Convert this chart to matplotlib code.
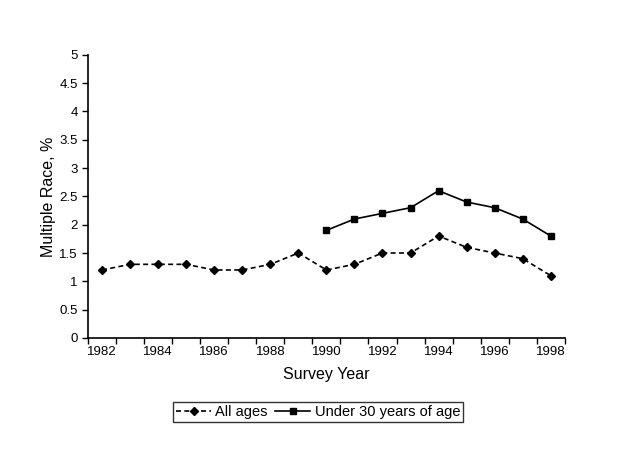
import matplotlib
matplotlib.use("Agg")
import matplotlib.pyplot as plt
import numpy as np

plt.rcParams['font.family'] = ['Liberation Sans', 'DejaVu Sans']

# Data
years = list(range(1982, 1999))
all_ages = [1.2, 1.3, 1.3, 1.3, 1.2, 1.2, 1.3, 1.5, 1.2, 1.3, 1.5, 1.5, 1.8, 1.6, 1.5, 1.4, 1.1]
under30_years = list(range(1990, 1999))
under30 = [1.9, 2.1, 2.2, 2.3, 2.6, 2.4, 2.3, 2.1, 1.8]

x_all = np.arange(len(years))
x_u30 = np.array([years.index(y) for y in under30_years])

fig = plt.figure(figsize=(6.4, 4.53), dpi=100)
ax = fig.add_axes([0.1375, 0.254, 0.745, 0.625])

ax.plot(x_all, all_ages, color='black', linestyle=(0, (3, 2)), linewidth=1.2,
        marker='D', markersize=4.5, label='All ages')
ax.plot(x_u30, under30, color='black', linestyle='-', linewidth=1.2,
        marker='s', markersize=5, label='Under 30 years of age')

ax.set_xlim(-0.5, len(years) - 0.5)
ax.set_ylim(0, 5)
ax.set_yticks(np.arange(0, 5.01, 0.5))
ax.set_yticklabels([f'{v:g}' for v in np.arange(0, 5.01, 0.5)])

# category axis: tick marks between categories, labels every other year
ax.set_xticks(x_all[::2])
ax.set_xticklabels([str(y) for y in years[::2]])
ax.set_xticks(np.arange(-0.5, len(years), 1), minor=True)
ax.tick_params(axis='x', which='major', length=0, pad=6, labelsize=9.5)
ax.tick_params(axis='x', which='minor', length=4, direction='out', width=1)
ax.tick_params(axis='y', length=4, direction='out', labelsize=9.5, width=1)

for s in ['top', 'right']:
    ax.spines[s].set_visible(False)
for s in ['left', 'bottom']:
    ax.spines[s].set_linewidth(1.2)

ax.set_xlabel('Survey Year', fontsize=11.5, labelpad=6)
ax.set_ylabel('Multiple Race, %', fontsize=11.5, labelpad=2)

leg = fig.legend(loc='center', bbox_to_anchor=(0.497, 0.091), ncol=2,
                 frameon=True, fancybox=False, fontsize=10.5,
                 handlelength=2.4, columnspacing=0.5, handletextpad=0.3,
                 borderpad=0.2, borderaxespad=0)
leg.get_frame().set_edgecolor('black')
leg.get_frame().set_linewidth(1)

fig.savefig('out.png', dpi=100)
